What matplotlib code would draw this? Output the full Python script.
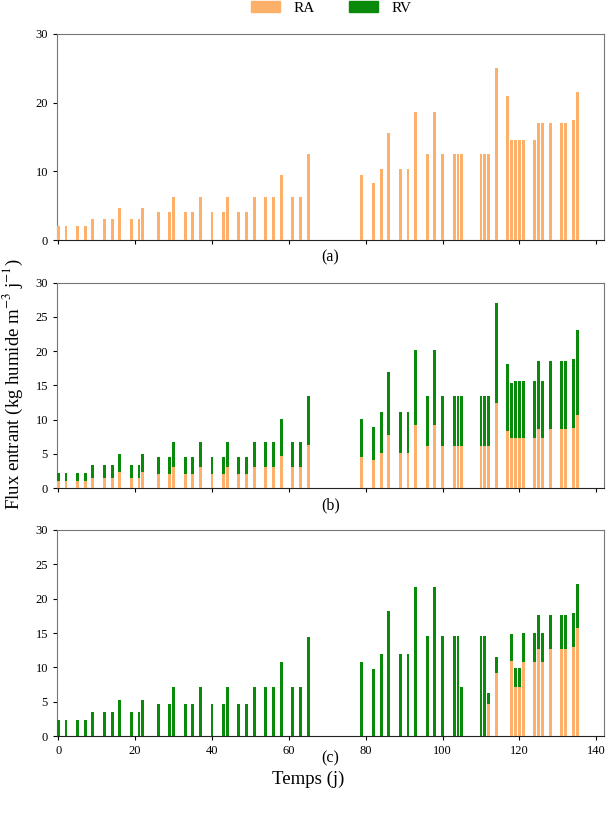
import matplotlib
matplotlib.use("Agg")
import matplotlib.pyplot as plt
from matplotlib.patches import Patch

plt.rcParams['font.family'] = ['Liberation Serif', 'DejaVu Serif']
plt.rcParams['mathtext.fontset'] = 'stix'

# jours d'apport
days = [0, 2, 5, 7, 9, 12, 14, 16, 19, 21, 22, 26, 29, 30, 33, 35, 37, 40, 43, 44,
        47, 49, 51, 54, 56, 58, 61, 63, 65,
        79, 82, 84, 86, 89, 91, 93, 96, 98, 100, 103, 104, 105, 110, 111, 112, 114,
        117, 118, 119, 120, 121, 124, 125, 126, 128, 131, 132, 134, 135]

# (a) RA seul
ra_a = [2.0, 2.0, 2.0, 2.0, 3.1, 3.1, 3.1, 4.6, 3.1, 3.1, 4.6, 4.1, 4.1, 6.2, 4.1, 4.1, 6.2, 4.1, 4.1, 6.2,
        4.1, 4.1, 6.2, 6.2, 6.2, 9.4, 6.2, 6.2, 12.5,
        9.4, 8.3, 10.4, 15.6, 10.4, 10.4, 18.7, 12.5, 18.7, 12.5, 12.5, 12.5, 12.5, 12.5, 12.5, 12.5, 25.0,
        20.9, 14.6, 14.6, 14.6, 14.6, 14.6, 17.1, 17.1, 17.1, 17.1, 17.1, 17.5, 21.5]

# (b) RA + RV
ra_b = [1.05, 1.05, 1.05, 1.05, 1.55, 1.55, 1.55, 2.4, 1.55, 1.55, 2.4, 2.1, 2.1, 3.1, 2.1, 2.1, 3.1, 2.1, 2.1, 3.1,
        2.1, 2.1, 3.1, 3.1, 3.1, 4.7, 3.1, 3.1, 6.3,
        4.6, 4.1, 5.2, 7.8, 5.2, 5.2, 9.3, 6.2, 9.3, 6.2, 6.2, 6.2, 6.2, 6.2, 6.2, 6.2, 12.5,
        8.3, 7.3, 7.3, 7.3, 7.3, 7.3, 8.6, 7.3, 8.6, 8.6, 8.6, 8.8, 10.7]
rv_b = [1.2, 1.2, 1.2, 1.2, 1.83, 1.83, 1.83, 2.65, 1.83, 1.83, 2.65, 2.4, 2.4, 3.6, 2.4, 2.4, 3.6, 2.4, 2.4, 3.6,
        2.4, 2.4, 3.6, 3.6, 3.6, 5.4, 3.6, 3.6, 7.2,
        5.5, 4.9, 6.0, 9.1, 6.0, 6.0, 10.9, 7.3, 10.9, 7.3, 7.3, 7.3, 7.3, 7.3, 7.3, 7.3, 14.6,
        9.8, 8.1, 8.4, 8.4, 8.4, 8.4, 9.9, 8.4, 9.9, 9.9, 9.9, 10.0, 12.4]

# (c) RV puis RA
ra_c = [0] * 29 + [0] * 15 + [4.6, 9.2,
        0, 10.9, 7.1, 7.1, 10.8, 10.8, 12.7, 10.8, 12.7, 12.7, 12.7, 12.9, 15.8]
rv_c = [2.3, 2.3, 2.3, 2.3, 3.5, 3.5, 3.5, 5.3, 3.5, 3.5, 5.3, 4.7, 4.7, 7.2, 4.7, 4.7, 7.2, 4.7, 4.7, 7.2,
        4.7, 4.7, 7.2, 7.2, 7.2, 10.8, 7.2, 7.2, 14.4,
        10.8, 9.7, 12.0, 18.2, 12.0, 12.0, 21.7, 14.5, 21.7, 14.5, 14.5, 14.5, 7.2, 14.5, 14.5, 1.7, 2.3,
        0, 4.0, 2.8, 2.8, 4.2, 4.2, 4.9, 4.2, 4.9, 4.9, 4.9, 5.0, 6.3]

c_ra = '#FDB06A'
c_rv = '#0A8A0A'
w = 0.75

fig = plt.figure(figsize=(6.1, 8.15), dpi=100)
pos = [[0.0934, 0.7055, 0.8967, 0.2528],
       [0.0934, 0.4009, 0.8967, 0.2523],
       [0.0934, 0.0969, 0.8967, 0.2528]]
axes = [fig.add_axes(p) for p in pos]

axes[0].bar(days, ra_a, width=w, color=c_ra, zorder=3)
axes[1].bar(days, ra_b, width=w, color=c_ra, zorder=3)
axes[1].bar(days, rv_b, width=w, bottom=ra_b, color=c_rv, zorder=3)
axes[2].bar(days, ra_c, width=w, color=c_ra, zorder=3)
axes[2].bar(days, rv_c, width=w, bottom=ra_c, color=c_rv, zorder=3)

for i, ax in enumerate(axes):
    ax.set_xlim(-0.35, 142)
    ax.set_ylim(0, 30)
    ax.set_xticks(range(0, 141, 20))
    if i == 0:
        ax.set_yticks([0, 10, 20, 30])
    else:
        ax.set_yticks(range(0, 31, 5))
    if i < 2:
        ax.set_xticklabels([])
    ax.tick_params(labelsize=9, length=3, width=0.8)
    for s in ['top', 'right', 'left']:
        ax.spines[s].set_color('#777777')
    ax.spines['bottom'].set_color('#222222')

fig.text(0.542, 1 - 257 / 815, '(a)', ha='center', va='center', fontsize=11.5)
fig.text(0.542, 1 - 505 / 815, '(b)', ha='center', va='center', fontsize=11.5)
fig.text(0.542, 1 - 758 / 815, '(c)', ha='center', va='center', fontsize=11.5)
fig.text(0.505, 1 - 779 / 815, 'Temps (j)', ha='center', va='center', fontsize=13.5)
fig.text(0.022, 1 - 384 / 815, 'Flux entrant (kg humide m$^{-3}$ j$^{-1}$)',
         rotation=90, ha='center', va='center', fontsize=13.5)

handles = [Patch(color=c_ra, label='RA'), Patch(color=c_rv, label='RV')]
fig.legend(handles=handles, loc='center', bbox_to_anchor=(0.543, 0.99), ncol=2,
           frameon=False, fontsize=11, handlelength=1.9, handleheight=0.75,
           handletextpad=0.9, columnspacing=2.2)

fig.savefig('out.png', dpi=100)
